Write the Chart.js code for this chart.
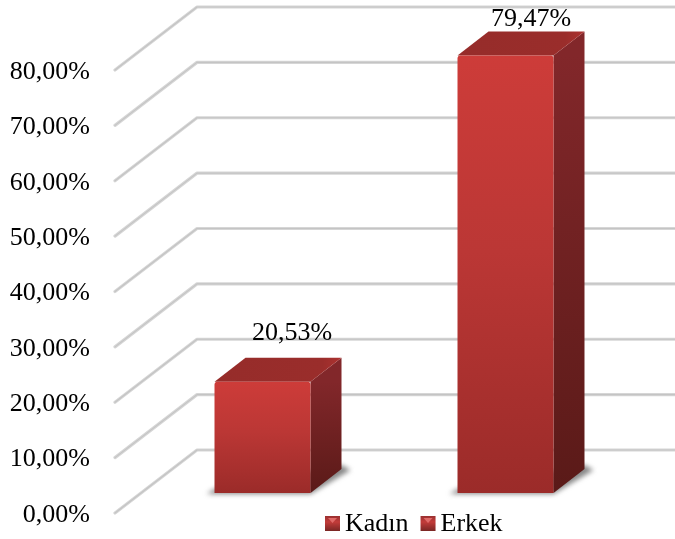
<!DOCTYPE html>
<html>
<head>
<meta charset="utf-8">
<style>
  html, body { margin: 0; padding: 0; background: #fff; }
  canvas { display: block; }
</style>
<script src="https://cdn.jsdelivr.net/npm/chart.js@4/dist/chart.umd.min.js"></script>
</head>
<body>
<canvas id="grafik" width="675" height="539"></canvas>
<script>
const categories = ["Kadın", "Erkek"];
const seriesValues = [20.53, 79.47];
const valueLabels = ["20,53%", "79,47%"];
const yTickLabels = ["0,00%", "10,00%", "20,00%", "30,00%", "40,00%", "50,00%", "60,00%", "70,00%", "80,00%"];

// 3d look of the plot: how far the back wall and the bars sit from the front plane
const WALL_DX = 82, WALL_DY = 63;
const BAR_DX = 26, BAR_DY = 20;
const DEPTH_X = 31, DEPTH_Y = 24;
const BEVEL = 2.5;
const FONT = '"Liberation Serif", "Times New Roman", serif';
const FONT_SIZE = 26;
const labelNudge = [{ x: 4, y: -18 }, { x: 0, y: -5 }];

function drawWalls(chart) {
  const { ctx, scales: { y }, chartArea } = chart;
  ctx.save();
  ctx.lineJoin = "round";
  ctx.lineCap = "round";
  ctx.filter = "blur(0.4px)";
  y.ticks.forEach((t, i) => {
    const py = y.getPixelForTick(i);
    const path = () => {
      ctx.beginPath();
      ctx.moveTo(chartArea.left, py);
      ctx.lineTo(chartArea.left + WALL_DX, py - WALL_DY);
      ctx.lineTo(chart.width + 2, py - WALL_DY);
    };
    ctx.strokeStyle = "#d6d6d6";
    ctx.lineWidth = 3.2;
    path();
    ctx.stroke();
    ctx.strokeStyle = "#c4c4c4";
    ctx.lineWidth = 1.2;
    path();
    ctx.stroke();
  });
  ctx.restore();
}

function drawBar(ctx, el) {
  const x0 = el.x - el.width / 2 + BAR_DX;
  const x1 = el.x + el.width / 2 + BAR_DX;
  const top = el.y - BAR_DY + BEVEL;
  const bottom = el.base - BAR_DY;

  // floor shadow
  ctx.save();
  ctx.filter = "blur(2.5px)";
  ctx.fillStyle = "rgba(95,95,95,.75)";
  ctx.beginPath();
  ctx.moveTo(x0 - 8, bottom + 1);
  ctx.lineTo(x1, bottom + 1);
  ctx.lineTo(x1 + DEPTH_X + 9, bottom - DEPTH_Y + 1);
  ctx.lineTo(x1 + DEPTH_X, bottom - DEPTH_Y - 4);
  ctx.lineTo(x0, bottom - 4);
  ctx.closePath();
  ctx.fill();
  ctx.restore();

  ctx.save();
  ctx.filter = "blur(0.5px)";

  // side
  const side = ctx.createLinearGradient(0, top, 0, bottom);
  side.addColorStop(0, "#82272a");
  side.addColorStop(1, "#5a1a18");
  ctx.fillStyle = side;
  ctx.beginPath();
  ctx.moveTo(x1, top);
  ctx.lineTo(x1 + DEPTH_X, top - DEPTH_Y);
  ctx.lineTo(x1 + DEPTH_X, bottom - DEPTH_Y);
  ctx.lineTo(x1, bottom);
  ctx.closePath();
  ctx.fill();

  // top
  const lid = ctx.createLinearGradient(x0, 0, x1 + DEPTH_X, 0);
  lid.addColorStop(0, "#962c2a");
  lid.addColorStop(.85, "#9a2d2b");
  lid.addColorStop(1, "#ad3230");
  ctx.fillStyle = lid;
  ctx.beginPath();
  ctx.moveTo(x0, top);
  ctx.lineTo(x0 + DEPTH_X, top - DEPTH_Y);
  ctx.lineTo(x1 + DEPTH_X, top - DEPTH_Y);
  ctx.lineTo(x1, top);
  ctx.closePath();
  ctx.fill();

  // front
  const front = ctx.createLinearGradient(0, top, 0, bottom);
  front.addColorStop(0, "#cd3c39");
  front.addColorStop(.45, "#bb3735");
  front.addColorStop(1, "#9b2b29");
  ctx.fillStyle = front;
  ctx.beginPath();
  ctx.roundRect(x0, top, x1 - x0, bottom - top, [3, 3, 0, 0]);
  ctx.fill();
  ctx.restore();
}

const bar3d = {
  id: "bar3d",
  beforeDatasetsDraw(chart) {
    const { ctx } = chart;
    drawWalls(chart);
    chart.getDatasetMeta(0).data.forEach(el => drawBar(ctx, el));
  },
  afterDatasetsDraw(chart) {
    const { ctx } = chart;
    ctx.save();
    ctx.fillStyle = "#000";
    ctx.font = FONT_SIZE + "px " + FONT;
    ctx.textAlign = "center";
    ctx.textBaseline = "alphabetic";
    chart.getDatasetMeta(0).data.forEach((el, i) => {
      const cx = el.x + BAR_DX + DEPTH_X / 2 + labelNudge[i].x + 10;
      const cy = el.y - BAR_DY + BEVEL - DEPTH_Y + labelNudge[i].y;
      ctx.fillText(valueLabels[i], cx, cy);
    });
    ctx.restore();
  },
  afterDraw(chart) {
    // legend, squeezed tighter than the built-in one can be
    const { ctx } = chart;
    ctx.save();
    ctx.font = FONT_SIZE + "px " + FONT;
    ctx.textBaseline = "alphabetic";
    let x = 325;
    categories.forEach(name => {
      const g = ctx.createLinearGradient(0, 516, 0, 531);
      g.addColorStop(0, "#9a3030");
      g.addColorStop(.4, "#c23c3a");
      g.addColorStop(1, "#7a2624");
      ctx.fillStyle = g;
      ctx.fillRect(x, 516, 15, 15);
      ctx.fillStyle = "#e06a68";
      ctx.beginPath();
      ctx.moveTo(x + 3, 518);
      ctx.lineTo(x + 12, 518);
      ctx.lineTo(x + 7.5, 523);
      ctx.closePath();
      ctx.fill();
      ctx.fillStyle = "#000";
      ctx.fillText(name, x + 20, 531);
      x += 20 + ctx.measureText(name).width + 12;
    });
    ctx.restore();
  }
};

new Chart(document.getElementById("grafik"), {
  type: "bar",
  plugins: [bar3d],
  data: {
    labels: categories,
    datasets: [{
      data: seriesValues,
      backgroundColor: "transparent",
      borderWidth: 0,
      barPercentage: 0.395,
      categoryPercentage: 1
    }]
  },
  options: {
    responsive: false,
    animation: false,
    layout: { padding: { top: 70, right: 74, bottom: 26, left: 0 } },
    plugins: { legend: { display: false }, tooltip: { enabled: false } },
    scales: {
      x: { display: false },
      y: {
        min: 0,
        max: 80,
        grid: { display: false, drawTicks: false },
        border: { display: false },
        afterFit(scale) {
          scale.width = 115;
          scale.paddingTop = 0;
          scale.paddingBottom = 0;
        },
        ticks: {
          stepSize: 10,
          padding: 25,
          labelOffset: 2,
          color: "#000",
          font: { family: FONT, size: FONT_SIZE },
          callback: (v, i) => yTickLabels[i]
        }
      }
    }
  }
});
</script>
</body>
</html>
